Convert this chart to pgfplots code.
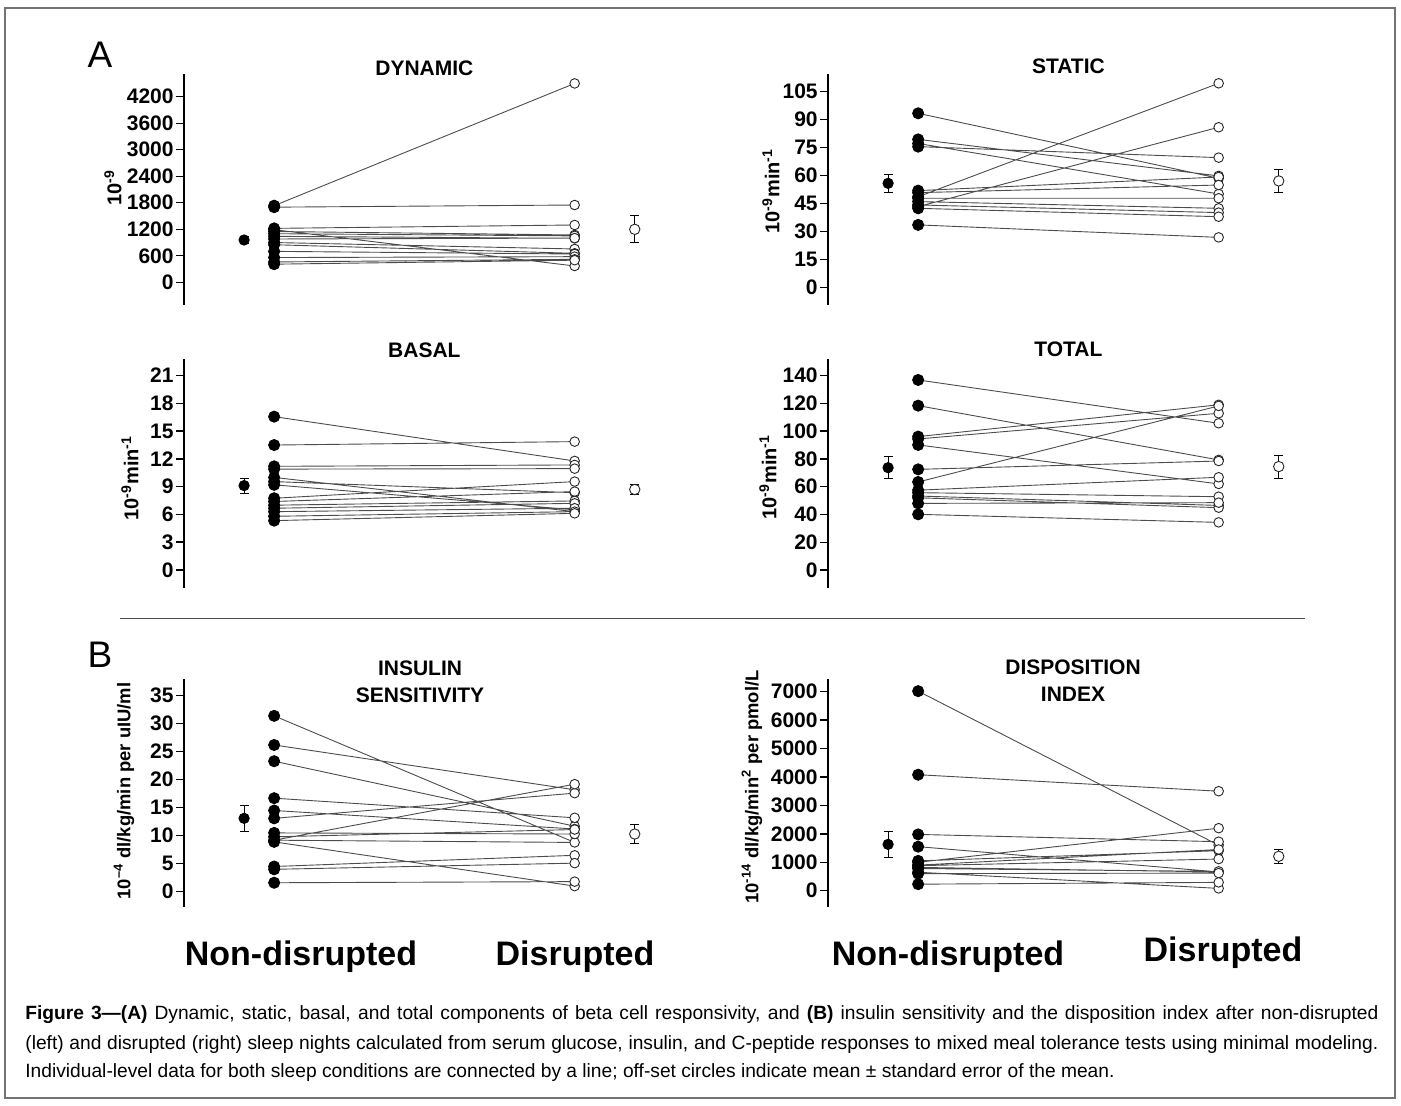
\documentclass[border=0pt]{standalone}
\usepackage{fontspec}
\setmainfont{Liberation Sans}
\usepackage{pgfplots}
\pgfplotsset{compat=1.18}
\pgfplotsset{
  panel/.style={
    scale only axis, width=240.4pt,
    xmin=0.7, xmax=2.3,
    axis x line=none, axis y line=left,
    axis line style={-, line width=0.7pt, black},
    xtick=\empty,
    tick align=outside, major tick length=4pt,
    tick style={line width=0.7pt, black},
    yticklabel style={font=\fontsize{10.5}{12}\selectfont\bfseries, inner sep=1pt},
    /pgf/number format/assume math mode=true,
    /pgf/number format/1000 sep={},
    clip=false,
    anchor=south west,
  },
  pair/.style={black!70, line width=0.45pt, unbounded coords=jump, no markers},
  nd/.style={only marks, mark=*, mark size=2.8pt, mark options={fill=black, draw=black}},
  dd/.style={only marks, mark=*, mark size=2.4pt, mark options={fill=white, draw=black!85, line width=0.45pt}},
  ndmean/.style={only marks, mark=*, mark size=2.6pt, mark options={fill=black, draw=black},
     error bars/.cd, y dir=both, y explicit, error bar style={line width=0.4pt, black},
     error mark options={mark size=2.2pt, line width=0.4pt, black, rotate=90}},
  dmean/.style={only marks, mark=*, mark size=2.6pt, mark options={fill=white, draw=black!85, line width=0.45pt},
     error bars/.cd, y dir=both, y explicit, error bar style={line width=0.4pt, black},
     error mark options={mark size=2.2pt, line width=0.4pt, black, rotate=90}},
}
\newcommand\ttlf{\fontsize{10.5}{13.5}\selectfont\bfseries}
\newcommand\ylabf{\fontsize{10}{12}\selectfont\bfseries}
\newcommand\bigf{\fontsize{17}{20}\selectfont\bfseries}
\newcommand\capf{\fontsize{9.6}{11}\selectfont}
\begin{document}
\begin{tikzpicture}
\path[use as bounding box] (0,0) rectangle (700.5pt,-553pt);
\draw[black!55, line width=0.6pt] (2.5pt,-4pt) rectangle (697.5pt,-549pt);

% ---------- DYNAMIC ----------
\begin{axis}[panel, at={(92pt,-152.5pt)}, height=115.5pt, ymin=-513.7, ymax=4713.7, ytick={0,600,...,4200}]
\addplot[pair] coordinates {(1,1734)(2,4500) (1,nan) (1,1700)(2,1749) (1,nan) (1,1220)(2,1297) (1,nan)
 (1,1190)(2,369) (1,nan) (1,1150)(2,1071) (1,nan) (1,1100)(2,1050) (1,nan) (1,1040)(2,995) (1,nan)
 (1,980)(2,1000) (1,nan) (1,900)(2,754) (1,nan) (1,850)(2,656) (1,nan) (1,700)(2,640) (1,nan)
 (1,560)(2,580) (1,nan) (1,460)(2,520) (1,nan) (1,410)(2,500)};
\addplot[dd] coordinates {(2,4500)(2,1749)(2,1297)(2,369)(2,1071)(2,1050)(2,995)(2,1000)(2,754)(2,656)(2,640)(2,580)(2,520)(2,500)};
\addplot[nd] coordinates {(1,1734)(1,1700)(1,1220)(1,1190)(1,1150)(1,1100)(1,1040)(1,980)(1,900)(1,850)(1,700)(1,560)(1,460)(1,410)};
\addplot[ndmean] coordinates {(0.9,957) +- (0,80)};
\addplot[dmean] coordinates {(2.2,1199) +- (0,305)};
\end{axis}

% ---------- STATIC ----------
\begin{axis}[panel, at={(414pt,-152.5pt)}, height=115.5pt, ymin=-9.5, ymax=114.5, ytick={0,15,...,105}]
\addplot[pair] coordinates {(1,93.4)(2,58.5) (1,nan) (1,79.4)(2,59.8) (1,nan) (1,77.2)(2,50.1) (1,nan)
 (1,75.5)(2,69.6) (1,nan) (1,51.9)(2,59.2) (1,nan) (1,50.8)(2,54.9) (1,nan) (1,48.6)(2,109.5) (1,nan)
 (1,47.8)(2,47.8) (1,nan) (1,46.0)(2,42.4) (1,nan) (1,44.2)(2,40.1) (1,nan) (1,43.3)(2,85.9) (1,nan)
 (1,42.4)(2,37.9) (1,nan) (1,33.5)(2,26.8)};
\addplot[dd] coordinates {(2,58.5)(2,59.8)(2,50.1)(2,69.6)(2,59.2)(2,54.9)(2,109.5)(2,47.8)(2,42.4)(2,40.1)(2,85.9)(2,37.9)(2,26.8)};
\addplot[nd] coordinates {(1,93.4)(1,79.4)(1,77.2)(1,75.5)(1,51.9)(1,50.8)(1,48.6)(1,47.8)(1,46.0)(1,44.2)(1,43.3)(1,42.4)(1,33.5)};
\addplot[ndmean] coordinates {(0.9,55.8) +- (0,4.7)};
\addplot[dmean] coordinates {(2.2,57.1) +- (0,6)};
\end{axis}

% ---------- BASAL ----------
\begin{axis}[panel, at={(92pt,-294pt)}, height=114.5pt, ymin=-1.95, ymax=22.8, ytick={0,3,...,21}]
\addplot[pair] coordinates {(1,16.57)(2,11.78) (1,nan) (1,13.5)(2,13.87) (1,nan) (1,11.2)(2,11.35) (1,nan)
 (1,10.9)(2,10.95) (1,nan) (1,10.0)(2,6.3) (1,nan) (1,9.55)(2,8.35) (1,nan) (1,9.2)(2,6.5) (1,nan)
 (1,7.75)(2,9.55) (1,nan) (1,7.4)(2,8.47) (1,nan) (1,7.0)(2,7.46) (1,nan) (1,6.67)(2,7.2) (1,nan)
 (1,6.3)(2,6.67) (1,nan) (1,5.8)(2,6.3) (1,nan) (1,5.33)(2,6.12)};
\addplot[dd] coordinates {(2,11.78)(2,13.87)(2,11.35)(2,10.95)(2,6.3)(2,8.35)(2,6.5)(2,9.55)(2,8.47)(2,7.46)(2,7.2)(2,6.67)(2,6.3)(2,6.12)};
\addplot[nd] coordinates {(1,16.57)(1,13.5)(1,11.2)(1,10.9)(1,10.0)(1,9.55)(1,9.2)(1,7.75)(1,7.4)(1,7.0)(1,6.67)(1,6.3)(1,5.8)(1,5.33)};
\addplot[ndmean] coordinates {(0.9,9.12) +- (0,0.8)};
\addplot[dmean] coordinates {(2.2,8.7) +- (0,0.5)};
\end{axis}

% ---------- TOTAL ----------
\begin{axis}[panel, at={(414pt,-294pt)}, height=114.5pt, ymin=-12.97, ymax=152, ytick={0,20,...,140}]
\addplot[pair] coordinates {(1,136.9)(2,105.7) (1,nan) (1,118.4)(2,79.3) (1,nan) (1,96.1)(2,119.0) (1,nan)
 (1,94.4)(2,112.9) (1,nan) (1,90.1)(2,62.0) (1,nan) (1,72.5)(2,78.5) (1,nan) (1,63.4)(2,118.2) (1,nan)
 (1,57.5)(2,66.8) (1,nan) (1,55.7)(2,52.8) (1,nan) (1,53.3)(2,46.5) (1,nan) (1,52.0)(2,44.9) (1,nan)
 (1,48.0)(2,48.5) (1,nan) (1,40.1)(2,34.3)};
\addplot[dd] coordinates {(2,105.7)(2,79.3)(2,119.0)(2,112.9)(2,62.0)(2,78.5)(2,118.2)(2,66.8)(2,52.8)(2,46.5)(2,44.9)(2,48.5)(2,34.3)};
\addplot[nd] coordinates {(1,136.9)(1,118.4)(1,96.1)(1,94.4)(1,90.1)(1,72.5)(1,63.4)(1,57.5)(1,55.7)(1,53.3)(1,52.0)(1,48.0)(1,40.1)};
\addplot[ndmean] coordinates {(0.9,73.7) +- (0,8)};
\addplot[dmean] coordinates {(2.2,74.5) +- (0,8.4)};
\end{axis}

% ---------- INSULIN SENSITIVITY ----------
\begin{axis}[panel, at={(92pt,-453.5pt)}, height=114pt, ymin=-2.73, ymax=37.98, ytick={0,5,...,35}]
\addplot[pair] coordinates {(1,31.4)(2,8.8) (1,nan) (1,26.2)(2,18.2) (1,nan) (1,23.3)(2,11.7) (1,nan)
 (1,16.7)(2,13.2) (1,nan) (1,14.5)(2,11.2) (1,nan) (1,13.1)(2,17.6) (1,nan) (1,10.5)(2,10.3) (1,nan)
 (1,9.8)(2,11.1) (1,nan) (1,9.2)(2,19.2) (1,nan) (1,9.2)(2,8.8) (1,nan) (1,8.9)(2,1.0) (1,nan)
 (1,4.5)(2,6.5) (1,nan) (1,4.0)(2,5.1) (1,nan) (1,1.6)(2,1.8)};
\addplot[dd] coordinates {(2,8.8)(2,18.2)(2,11.7)(2,13.2)(2,11.2)(2,17.6)(2,10.3)(2,11.1)(2,19.2)(2,1.0)(2,6.5)(2,5.1)(2,1.8)};
\addplot[nd] coordinates {(1,31.4)(1,26.2)(1,23.3)(1,16.7)(1,14.5)(1,13.1)(1,10.5)(1,9.8)(1,9.2)(1,8.9)(1,4.5)(1,4.0)(1,1.6)};
\addplot[ndmean] coordinates {(0.9,13.1) +- (0,2.4)};
\addplot[dmean] coordinates {(2.2,10.3) +- (0,1.65)};
\end{axis}

% ---------- DISPOSITION INDEX ----------
\begin{axis}[panel, at={(414pt,-453.5pt)}, height=114pt, ymin=-573, ymax=7446.7, ytick={0,1000,...,7000}]
\addplot[pair] coordinates {(1,7020)(2,1600) (1,nan) (1,4080)(2,3500) (1,nan) (1,1980)(2,1724) (1,nan)
 (1,1550)(2,660) (1,nan) (1,1000)(2,2200) (1,nan) (1,1050)(2,1407) (1,nan) (1,900)(2,1450) (1,nan)
 (1,880)(2,1114) (1,nan) (1,820)(2,660) (1,nan) (1,780)(2,680) (1,nan) (1,650)(2,82) (1,nan)
 (1,600)(2,620) (1,nan) (1,230)(2,293)};
\addplot[dd] coordinates {(2,1600)(2,3500)(2,1724)(2,660)(2,2200)(2,1407)(2,1450)(2,1114)(2,680)(2,82)(2,620)(2,293)};
\addplot[nd] coordinates {(1,7020)(1,4080)(1,1980)(1,1550)(1,1000)(1,1050)(1,900)(1,880)(1,820)(1,780)(1,650)(1,600)(1,230)};
\addplot[ndmean] coordinates {(0.9,1630) +- (0,470)};
\addplot[dmean] coordinates {(2.2,1210) +- (0,250)};
\end{axis}

% ---------- texts ----------
\node[font=\fontsize{18.5}{20}\selectfont] at (50pt,-27.5pt) {A};
\node[font=\fontsize{18.5}{20}\selectfont] at (50pt,-327.5pt) {B};
\node[font=\ttlf] at (212.2pt,-34pt) {DYNAMIC};
\node[font=\ttlf] at (534.2pt,-33pt) {STATIC};
\node[font=\ttlf] at (212.2pt,-175pt) {BASAL};
\node[font=\ttlf] at (534.2pt,-174.5pt) {TOTAL};
\node[font=\ttlf, align=center] at (210pt,-341pt) {INSULIN\\SENSITIVITY};
\node[font=\ttlf, align=center] at (536.5pt,-340.5pt) {DISPOSITION\\INDEX};

\node[font=\ylabf, rotate=90] at (56.5pt,-94pt) {10\textsuperscript{-9}};
\node[font=\ylabf, rotate=90] at (385.5pt,-95.5pt) {10\textsuperscript{-9}min\textsuperscript{-1}};
\node[font=\ylabf, rotate=90] at (65pt,-239pt) {10\textsuperscript{-9}min\textsuperscript{-1}};
\node[font=\ylabf, rotate=90] at (384pt,-238.5pt) {10\textsuperscript{-9}min\textsuperscript{-1}};
\node[font=\fontsize{9.2}{11}\selectfont\bfseries, rotate=90] at (62pt,-395.5pt) {10\textsuperscript{–4} dl/kg/min per uIU/ml};
\node[font=\fontsize{9.2}{11}\selectfont\bfseries, rotate=90] at (376pt,-393.5pt) {10\textsuperscript{-14} dl/kg/min\textsuperscript{2} per pmol/L};

\draw[black!70, line width=0.5pt] (60pt,-309pt) -- (652.5pt,-309pt);

\node[font=\bigf, anchor=base] at (150.5pt,-482.5pt) {Non-disrupted};
\node[font=\bigf, anchor=base] at (287.5pt,-482.5pt) {Disrupted};
\node[font=\bigf, anchor=base] at (474pt,-482.5pt) {Non-disrupted};
\node[font=\bigf, anchor=base] at (611.5pt,-480.5pt) {Disrupted};

\node[font=\capf, anchor=base west, inner sep=0pt] at (12.5pt,-509.5pt) {\makebox[676.5pt][s]{\textbf{Figure 3—(A)} Dynamic, static, basal, and total components of beta cell responsivity, and \textbf{(B)} insulin sensitivity and the disposition index after non-disrupted}};
\node[font=\capf, anchor=base west, inner sep=0pt] at (12.5pt,-524.5pt) {\makebox[676.5pt][s]{(left) and disrupted (right) sleep nights calculated from serum glucose, insulin, and C-peptide responses to mixed meal tolerance tests using minimal modeling.}};
\node[font=\capf, anchor=base west, inner sep=0pt] at (12.5pt,-538.5pt) {Individual-level data for both sleep conditions are connected by a line; off-set circles indicate mean ± standard error of the mean.};
\end{tikzpicture}
\end{document}
